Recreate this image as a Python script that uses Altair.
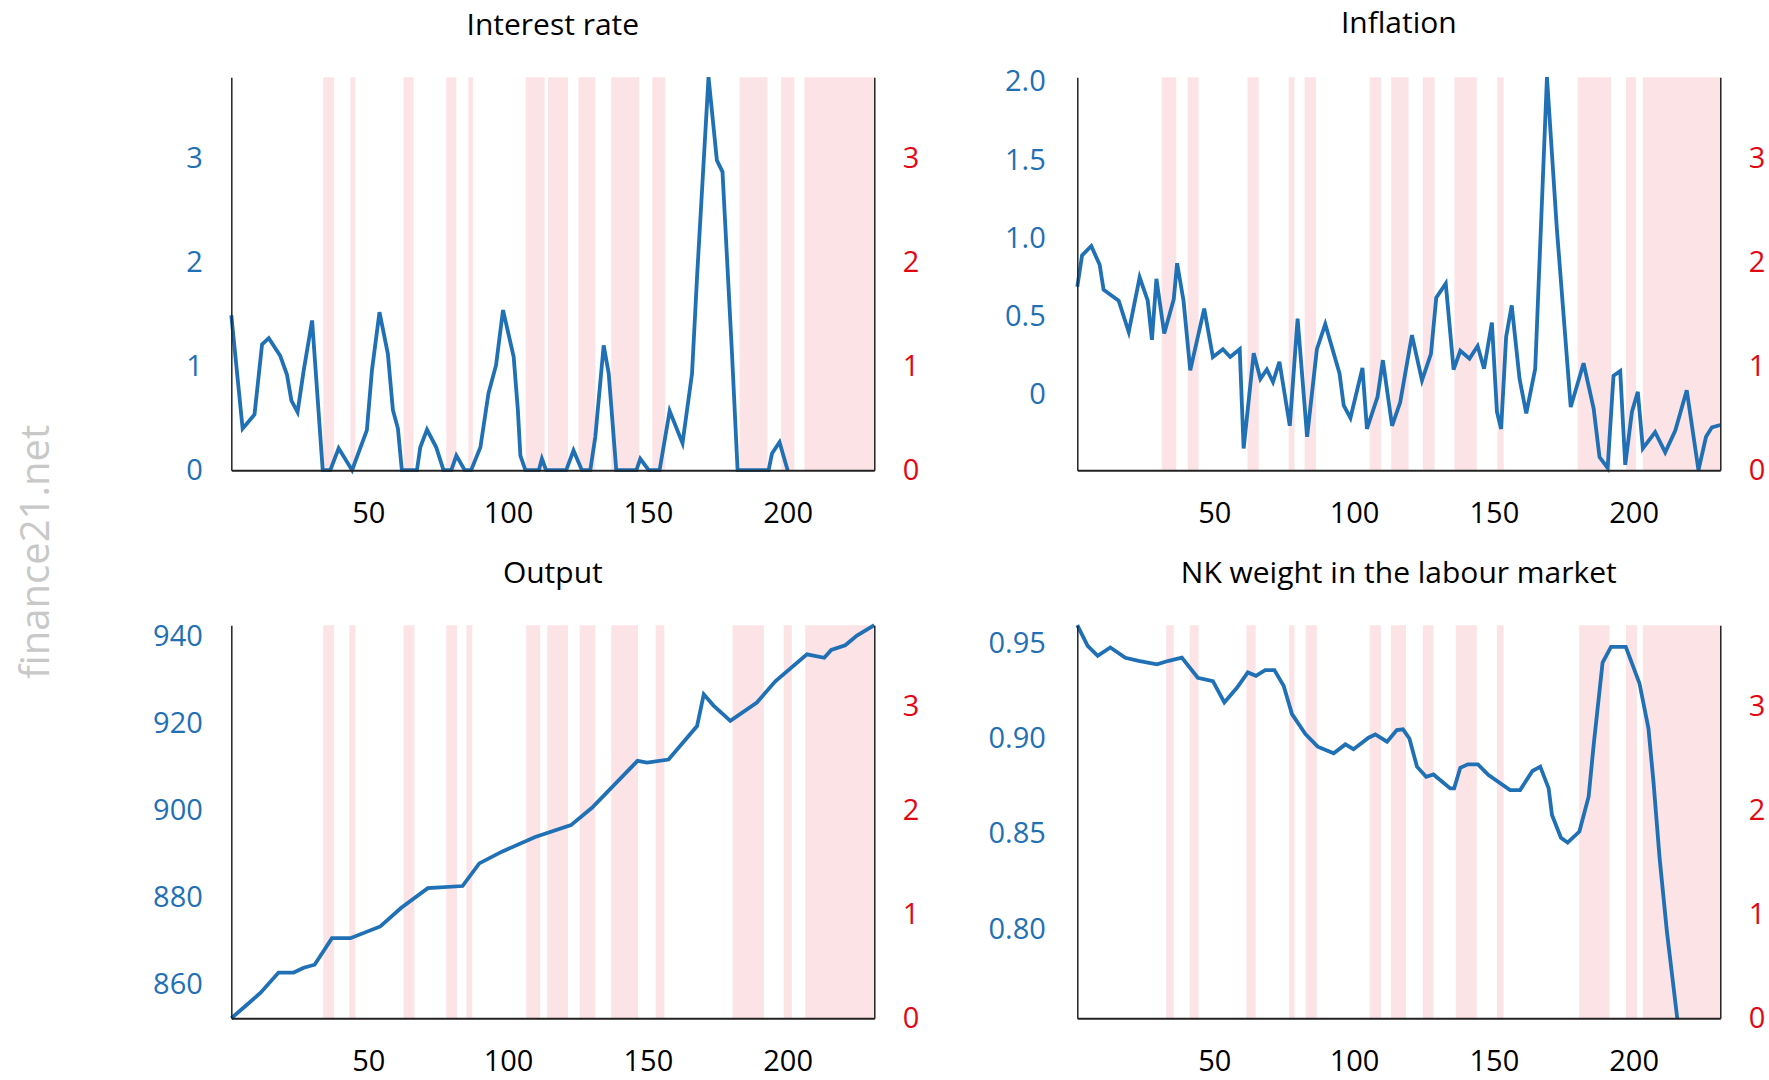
import altair as alt
import pandas as pd

FONT = "Open Sans"
BLUE = "#1f70b5"
RED = "#e30613"
PINK = "#fbe3e6"
AXIS_COLOR = "#222222"
X_DOMAIN = [1, 231]
REGIME_MAX = 3.78

# ---------------- data ----------------
interest_x = [1, 5.05, 9.3, 12, 14.4, 18.5, 20.9, 22.5, 24.7, 26.9, 29.9, 33.7, 36.4, 39.4, 44.2,
              49.5, 51.3, 54, 57, 58.8, 60.6, 62, 67.4, 68.6, 71, 74.3, 76.9, 79.7, 81.5, 84.5,
              86.8, 90.1, 93, 95.7, 98.2, 102, 103.5, 104.4, 106.2, 111, 112.1, 113.6, 120.8,
              123.4, 126.4, 129.4, 131.2, 134.2, 136, 138.7, 145.9, 147.3, 150.3, 154.2, 157.8,
              162.4, 165.8, 167.6, 171.7, 174.7, 176.7, 180.1, 182.1, 193.2, 194.4, 197.1, 200]
interest_y = [1.49, 0.40, 0.535, 1.21, 1.27, 1.10, 0.92, 0.67, 0.56, 0.96, 1.44, 0, 0, 0.21, 0,
              0.385, 0.96, 1.52, 1.12, 0.58, 0.40, 0, 0, 0.22, 0.39, 0.22, 0, 0, 0.14, 0,
              0, 0.22, 0.74, 1.01, 1.54, 1.09, 0.58, 0.14, 0, 0, 0.11, 0, 0,
              0.19, 0, 0, 0.32, 1.20, 0.93, 0, 0, 0.11, 0, 0, 0.57,
              0.26, 0.93, 1.86, 3.78, 2.98, 2.87, 1.12, 0, 0, 0.16, 0.27, 0]

inflation_x = [1, 2.7, 6, 9, 10.4, 15.8, 19.4, 23.3, 26.2, 27.7, 29.3, 32.1, 35.5, 36.7, 39,
               41.4, 46.4, 49.5, 53.1, 55.7, 59.1, 60.5, 64.1, 66.5, 68.8, 71, 73.3, 77, 79.8,
               83.2, 86.7, 89.7, 94.8, 96.3, 98.7, 103, 104.6, 108.4, 110.3, 113.6, 116.5,
               120.7, 124.3, 127.5, 129.4, 132.8, 135.6, 138, 141.3, 144.2, 146.5, 149.3,
               151.1, 152.6, 154.4, 156.4, 159.2, 161.6, 164.8, 169, 172.5, 177.5, 182.1,
               185.7, 187.8, 190.7, 192.8, 195.2, 197, 199.4, 201.5, 203.3, 207.7, 211.3,
               214.9, 219, 223.2, 225.9, 228, 231]
inflation_y = [0.69, 0.89, 0.95, 0.83, 0.67, 0.60, 0.40, 0.75, 0.60, 0.35, 0.74, 0.39, 0.61, 0.84,
               0.60, 0.155, 0.55, 0.24, 0.29, 0.24, 0.29, -0.345, 0.265, 0.10, 0.16, 0.08, 0.21,
               -0.20, 0.485, -0.27, 0.29, 0.45, 0.135, -0.07, -0.15, 0.17, -0.22, -0.015, 0.22,
               -0.20, -0.05, 0.38, 0.09, 0.26, 0.62, 0.71, 0.16, 0.28, 0.23, 0.31, 0.165, 0.46,
               -0.11, -0.22, 0.37, 0.57, 0.10, -0.12, 0.165, 2.03, 1.07, -0.08, 0.20, -0.09,
               -0.40, -0.47, 0.12, 0.15, -0.45, -0.11, 0.017, -0.345, -0.24, -0.37, -0.23,
               0.028, -0.484, -0.27, -0.21, -0.195]

output_x = [1, 6.6, 11.4, 17.9, 23.3, 26.9, 30.8, 37, 43.6, 54.3, 61.8, 71.3, 83.7, 89.7, 97.8,
            109.7, 122.5, 130, 146.3, 149.7, 157.4, 167.6, 170, 173.5, 179.5, 189, 195.6,
            206.9, 213.1, 215.6, 220.6, 224.8, 231]
output_y = [852.2, 855.3, 858.0, 862.7, 862.7, 863.8, 864.5, 870.6, 870.6, 873.3, 877.6, 882.1,
            882.6, 887.8, 890.5, 893.9, 896.6, 900.6, 911.4, 911.0, 911.7, 919.4, 926.7, 924.1,
            920.6, 924.8, 929.7, 935.9, 935.1, 936.9, 938.0, 940.2, 942.6]

nk_x = [1, 4.7, 8.3, 12.8, 18.2, 22.9, 29.5, 33.7, 38.4, 44.1, 49.5, 53.6, 58.1, 62, 64.9, 68.2,
        71.5, 74.8, 77.8, 82.6, 87, 92.7, 96.9, 99.8, 105.2, 107.6, 111.8, 115.3, 117.5, 119.8,
        122.5, 125.8, 128.4, 134.4, 135.8, 138, 140.7, 144.3, 148.1, 155.8, 159.4, 163.8, 166.6,
        169.6, 170.8, 174, 176.4, 180.6, 183.9, 185.7, 188.9, 191.9, 197.2, 202.1, 205.3, 207.1,
        209.3, 211.9, 215.6]
nk_y = [0.9596, 0.9488, 0.9435, 0.9479, 0.9425, 0.9409, 0.9390, 0.9409, 0.9426, 0.9320, 0.9302,
        0.9190, 0.9267, 0.9348, 0.9330, 0.9360, 0.9360, 0.9278, 0.9129, 0.9024, 0.8958, 0.8923,
        0.8970, 0.8945, 0.9005, 0.9022, 0.8984, 0.9045, 0.9049, 0.9001, 0.8853, 0.8800, 0.8812,
        0.8739, 0.8739, 0.8847, 0.8865, 0.8865, 0.8809, 0.8730, 0.8730, 0.8830, 0.8853, 0.8739,
        0.8599, 0.8480, 0.8454, 0.8512, 0.8695, 0.8966, 0.9400, 0.9482, 0.9482, 0.9290, 0.9054,
        0.8774, 0.8372, 0.7987, 0.7532]

# regime shading (start / end of each shaded period), per panel
tl_band_start = [33.9, 43.6, 62.6, 77.9, 85.8, 106.3, 114.3, 125.2, 136.9, 151.6, 182.8, 197.7, 206]
tl_band_end = [37.8, 45.4, 66.2, 81.5, 87.4, 113.1, 121.4, 131.2, 146.9, 156.2, 192.8, 202.4, 231]
tr_band_start = [31.2, 40.5, 61.9, 76.6, 82.3, 105.6, 113.3, 124.6, 135.9, 151.3, 180, 197.3, 203.3]
tr_band_end = [36.4, 44.4, 65.9, 78.7, 86.4, 109.7, 119.5, 128.8, 143.9, 153.5, 191.9, 200.8, 231]
bl_band_start = [33.9, 43.2, 62.6, 77.9, 85.1, 106.5, 114, 125.6, 136.9, 152.8, 180.3, 198.6, 206.3]
bl_band_end = [37.8, 45.4, 66.5, 81.7, 87.2, 111.5, 121.4, 131.2, 146.5, 155.9, 191.5, 201.5, 231]
br_band_start = [32.8, 41.2, 61.5, 76.8, 82.7, 105.6, 113.2, 124.6, 136.4, 151.1, 180.5, 197.3, 203.3]
br_band_end = [35.5, 44.4, 64.8, 78.7, 86.7, 109.6, 118.6, 128.4, 143.9, 153.5, 191.4, 201.2, 231]

regime_ticks = [0, 1, 2, 3]
x_ticks = [50, 100, 150, 200]

LABEL_SIZE = 29


def panel(title, xs, ys, ydomain, yvalues, label_expr, bstart, bend, left_pad):
    line_df = pd.DataFrame({"t": xs, "v": ys})
    band_df = pd.DataFrame({"start": bstart, "end": bend,
                            "lo": [0] * len(bstart), "hi": [REGIME_MAX] * len(bstart)})
    xscale = alt.Scale(domain=X_DOMAIN, nice=False, zero=False)
    xaxis = alt.Axis(values=x_ticks, ticks=False, grid=False, domainColor=AXIS_COLOR,
                     domainWidth=2, labelColor="black", labelFontSize=LABEL_SIZE, labelFont=FONT,
                     labelPadding=29, title=None, zindex=1)
    bands = alt.Chart(band_df).mark_rect(color=PINK).encode(
        x=alt.X("start:Q", scale=xscale, axis=xaxis),
        x2="end:Q",
        y=alt.Y("lo:Q", scale=alt.Scale(domain=[0, REGIME_MAX], nice=False, zero=False),
                axis=alt.Axis(orient="right", values=regime_ticks, ticks=False, grid=False,
                              domainColor=AXIS_COLOR, domainWidth=1.5, labelColor=RED,
                              labelFontSize=LABEL_SIZE, labelFont=FONT, labelPadding=28,
                              title=None, zindex=1, format="d")),
        y2="hi:Q",
    )
    line = alt.Chart(line_df).mark_line(color=BLUE, strokeWidth=3.8).encode(
        x=alt.X("t:Q", scale=xscale, axis=xaxis),
        y=alt.Y("v:Q", scale=alt.Scale(domain=ydomain, nice=False, zero=False),
                axis=alt.Axis(orient="left", values=yvalues, ticks=False, grid=False,
                              domainColor=AXIS_COLOR, domainWidth=1.5, labelColor=BLUE,
                              labelFontSize=LABEL_SIZE, labelFont=FONT, labelPadding=left_pad,
                              labelExpr=label_expr, title=None, zindex=1)),
    )
    return alt.layer(bands, line).resolve_scale(y="independent").properties(
        width=643, height=393,
        title=alt.TitleParams(text=title, fontSize=30, font=FONT, fontWeight="normal",
                              color="black", offset=28.5, frame="group", anchor="middle"),
    )


p1 = panel("Interest rate", interest_x, interest_y, [0, REGIME_MAX], [0, 1, 2, 3],
           "format(datum.value, 'd')", tl_band_start, tl_band_end, 29)
p2 = panel("Inflation", inflation_x, inflation_y, [-0.484, 2.03], [0, 0.5, 1, 1.5, 2],
           "datum.value == 0 ? '0' : format(datum.value, '.1f')", tr_band_start, tr_band_end, 32)
p3 = panel("Output", output_x, output_y, [852.2, 942.6], [860, 880, 900, 920, 940],
           "format(datum.value, 'd')", bl_band_start, bl_band_end, 29)
p4 = panel("NK weight in the labour market", nk_x, nk_y, [0.7532, 0.9596], [0.80, 0.85, 0.90, 0.95],
           "format(datum.value, '.2f')", br_band_start, br_band_end, 32)

chart = alt.concat(
    p1, p2, p3, p4, columns=2,
    spacing={"row": 155, "column": 203},
    bounds="flush",
    title=alt.TitleParams(text="finance21.net", orient="left", anchor="middle", fontSize=40,
                          font=FONT, fontWeight="normal", color="#c8c8c8", offset=95.5, dx=-9),
).properties(
    padding={"left": 16.3, "top": 9.2, "right": 0, "bottom": 0}
).configure_view(strokeWidth=0)

chart.save("out.html", embed_options={"renderer": "svg", "actions": False})
